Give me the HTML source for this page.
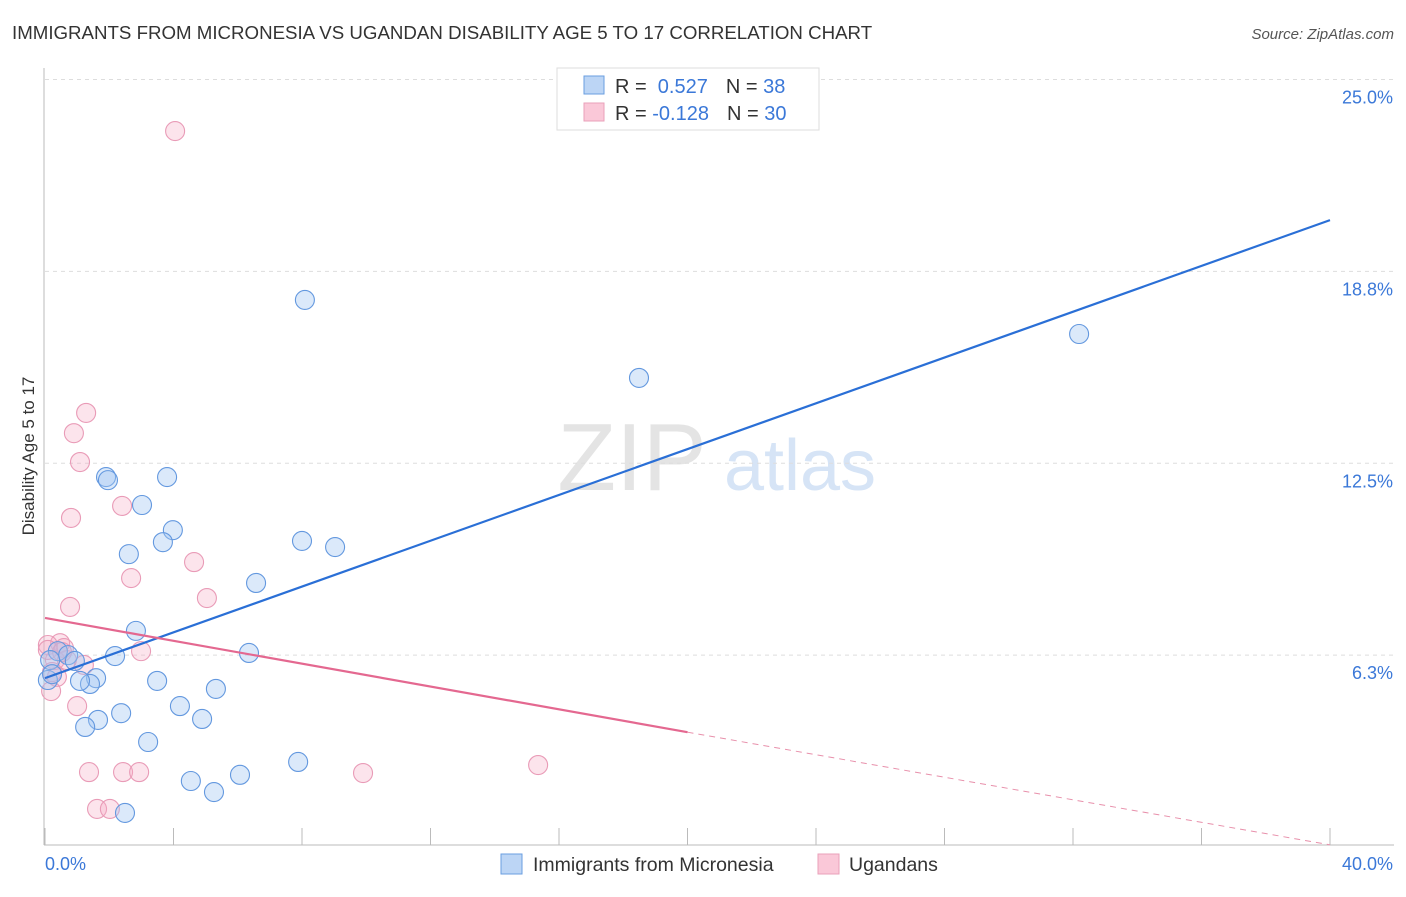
<!DOCTYPE html>
<html><head><meta charset="utf-8"><style>
body{margin:0;background:#fff;font-family:"Liberation Sans",sans-serif;}
svg text{font-family:"Liberation Sans",sans-serif;}
</style></head><body>
<svg id="c" width="1406" height="892">
<text x="12" y="39" font-size="18.7" fill="#333">IMMIGRANTS FROM MICRONESIA VS UGANDAN DISABILITY AGE 5 TO 17 CORRELATION CHART</text>
<text x="1394" y="39" font-size="15" fill="#555" font-style="italic" text-anchor="end">Source: ZipAtlas.com</text>
<text x="632" y="490" font-size="96" fill="#e4e4e4" text-anchor="middle" font-family="Liberation Serif">ZIP</text>
<text x="800" y="490" font-size="72" fill="#d6e4f6" text-anchor="middle">atlas</text>
<text transform="translate(34,456) rotate(-90)" font-size="17" fill="#333" text-anchor="middle">Disability Age 5 to 17</text>
<g id="grid"></g><g id="marks"></g>
<g>
<rect x="557" y="68" width="262" height="62" fill="#fff" stroke="#ddd"/>
<rect x="584" y="76" width="20" height="18" fill="#bcd5f5" stroke="#6a9ee0"/>
<rect x="584" y="103" width="20" height="18" fill="#fac8d8" stroke="#eaa0ba"/>
<text x="615" y="93" font-size="20" fill="#333">R = <tspan fill="#3b78d8">&#160;0.527</tspan><tspan dx="18">N = </tspan><tspan fill="#3b78d8">38</tspan></text>
<text x="615" y="120" font-size="20" fill="#333">R = <tspan fill="#3b78d8">-0.128</tspan><tspan dx="18">N = </tspan><tspan fill="#3b78d8">30</tspan></text>
</g>
<g>
<rect x="501" y="854" width="21" height="20" fill="#bcd5f5" stroke="#6a9ee0"/>
<text x="533" y="871" font-size="19.5" fill="#333">Immigrants from Micronesia</text>
<rect x="818" y="854" width="21" height="20" fill="#fac8d8" stroke="#eaa0ba"/>
<text x="849" y="871" font-size="19.5" fill="#333">Ugandans</text>
</g>
</svg>
<script>
const yTicks=[25.0,18.8,12.5,6.3];
const yTickVals=[25,18.75,12.5,6.25];
const xLabels=["0.0%","40.0%"];
const blueX=[8.09,32.19,18.49,1.90,1.96,3.80,3.02,3.98,3.67,2.61,8.00,9.03,6.57,2.83,2.18,6.35,0.40,0.72,0.93,0.16,0.09,0.22,1.59,1.40,1.09,3.49,5.32,4.20,2.37,1.65,1.25,4.89,3.21,7.88,6.07,4.54,5.26,2.49];
const blueY=[17.82,16.71,15.28,12.05,11.95,12.05,11.14,10.32,9.93,9.54,9.97,9.77,8.60,7.04,6.22,6.32,6.38,6.25,6.06,6.09,5.44,5.63,5.50,5.31,5.41,5.41,5.15,4.59,4.36,4.14,3.91,4.17,3.42,2.77,2.35,2.15,1.79,1.11];
const pinkX=[4.05,1.28,0.90,1.09,0.81,2.40,2.68,4.64,5.04,0.78,0.47,0.09,2.99,0.59,0.31,1.21,0.22,0.37,0.19,1.00,1.37,2.43,2.93,9.90,15.35,1.62,2.02,0.09,0.68,0.53];
const pinkY=[23.32,14.14,13.48,12.54,10.72,11.11,8.76,9.28,8.11,7.82,6.64,6.58,6.38,6.48,6.09,5.93,5.70,5.54,5.08,4.59,2.44,2.44,2.44,2.41,2.67,1.24,1.24,6.42,6.09,6.35];
const blueTrend=[0,5.50,40,20.42];
const pinkTrend=[0,7.46,20,3.74,40,0.07];
const X=v=>45+v/40*1285, Y=v=>847-v*30.7;
const NS="http://www.w3.org/2000/svg";
function mk(p,t,a){const e=document.createElementNS(NS,t);for(const k in a)e.setAttribute(k,a[k]);p.appendChild(e);return e;}
const g=document.getElementById('grid'), m=document.getElementById('marks');
yTickVals.forEach((v,i)=>{
 const l=mk(g,'line',{x1:45,x2:1394,y1:Y(v),y2:Y(v),stroke:'#ddd','stroke-dasharray':'4,4'});
 
 
 const t=mk(g,'text',{x:1393,y:Y(v)+24,'font-size':18,fill:'#3b78d8','text-anchor':'end'});
 t.textContent=yTicks[i].toFixed(1)+'%';
 
 
});
const ax=mk(g,'line',{x1:44,x2:44,y1:68,y2:845,stroke:'#bbb'});


const bx=mk(g,'line',{x1:44,x2:1394,y1:845,y2:845,stroke:'#bbb'});


for(let i=0;i<=10;i++){const tk=mk(g,'line',{x1:X(i*4),x2:X(i*4),y1:828,y2:845,stroke:'#bbb'});
 
 }
[[0,xLabels[0],'start',45],[40,xLabels[1],'end',1393]].forEach(a=>{const t=mk(g,'text',{x:a[3],y:870,'font-size':18,fill:'#3b78d8','text-anchor':a[2]});t.textContent=a[1];
 
 });
function pts(xs,ys,fill,stroke,name){xs.forEach((x,i)=>{const c=mk(m,'circle',{cx:X(x),cy:Y(ys[i]),r:9.5,fill:fill,stroke:stroke,'stroke-width':1.1});
 
 });}
pts(pinkX,pinkY,'rgba(245,170,196,0.32)','#e99bb7','ugandans-point');
pts(blueX,blueY,'rgba(160,196,242,0.38)','#6398df','micronesia-point');
const bl=mk(m,'line',{x1:X(blueTrend[0]),y1:Y(blueTrend[1]),x2:X(blueTrend[2]),y2:Y(blueTrend[3]),stroke:'#2a6fd6','stroke-width':2.2});


const pl=mk(m,'line',{x1:X(pinkTrend[0]),y1:Y(pinkTrend[1]),x2:X(pinkTrend[2]),y2:Y(pinkTrend[3]),stroke:'#e46890','stroke-width':2.2});


const pd=mk(m,'line',{x1:X(pinkTrend[2]),y1:Y(pinkTrend[3]),x2:X(pinkTrend[4]),y2:Y(pinkTrend[5]),stroke:'#e890ab','stroke-width':1,'stroke-dasharray':'6,5'});


</script>
</body></html>
